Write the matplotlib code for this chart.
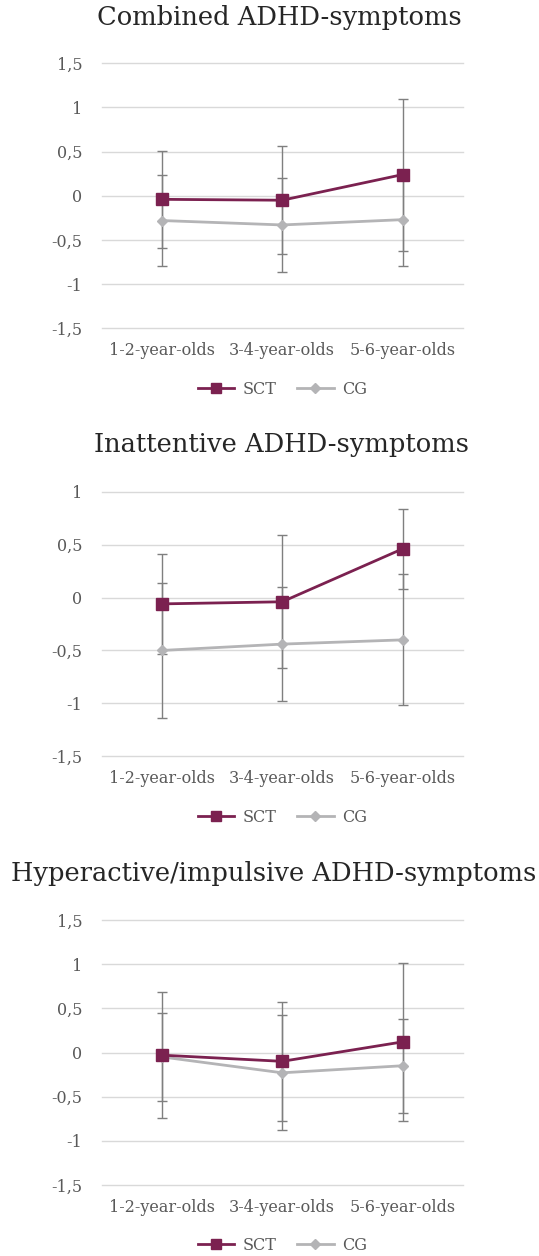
import matplotlib
matplotlib.use("Agg")
import matplotlib.pyplot as plt
from matplotlib.lines import Line2D

categories = ["1-2-year-olds", "3-4-year-olds", "5-6-year-olds"]
series_names = ["SCT", "CG"]

titles = ["Combined ADHD-symptoms", "Inattentive ADHD-symptoms",
          "Hyperactive/impulsive ADHD-symptoms"]

# Panel 1: Combined
sct_combined = [-0.04, -0.05, 0.24]
sct_combined_err = [0.55, 0.61, 0.86]
cg_combined = [-0.28, -0.33, -0.27]
cg_combined_err = [0.51, 0.53, 0.52]

# Panel 2: Inattentive
sct_inatt = [-0.06, -0.04, 0.46]
sct_inatt_err = [0.47, 0.63, 0.38]
cg_inatt = [-0.50, -0.44, -0.40]
cg_inatt_err = [0.64, 0.54, 0.62]

# Panel 3: Hyperactive/impulsive
sct_hyper = [-0.03, -0.10, 0.12]
sct_hyper_err = [0.71, 0.67, 0.89]
cg_hyper = [-0.05, -0.23, -0.15]
cg_hyper_err = [0.50, 0.65, 0.53]

yticks_1 = [-1.5, -1, -0.5, 0, 0.5, 1, 1.5]
yticks_2 = [-1.5, -1, -0.5, 0, 0.5, 1]
yticks_3 = [-1.5, -1, -0.5, 0, 0.5, 1, 1.5]

def fmt(v):
    s = ("%g" % v).replace(".", ",")
    return s

W, H = 539, 1256
fig = plt.figure(figsize=(W / 100, H / 100), dpi=100)
FONT = "DejaVu Serif"
SCT_C = "#7B2150"
CG_C = "#B4B4B6"
ERR_C = "#7F7F7F"
GRID_C = "#D9D9D9"
TXT_C = "#595959"

panels = [
    (titles[0], sct_combined, sct_combined_err, cg_combined, cg_combined_err, yticks_1, 63.3, 328.3, 18, 389, 279),
    (titles[1], sct_inatt, sct_inatt_err, cg_inatt, cg_inatt_err, yticks_2, 491.7, 756.3, 445, 817, 282),
    (titles[2], sct_hyper, sct_hyper_err, cg_hyper, cg_hyper_err, yticks_3, 920.0, 1185.0, 873, 1245, 273.5),
]

left, right = 101.7, 462.7
for (title, sct, sct_e, cg, cg_e, yt, top, bot, ty, ly, tx) in panels:
    ax = fig.add_axes([left / W, 1 - bot / H, (right - left) / W, (bot - top) / H])
    x = list(range(len(categories)))
    for t in yt:
        ax.axhline(t, color=GRID_C, lw=1.0, zorder=0, clip_on=False)
    ax.errorbar(x, cg, yerr=cg_e, fmt="none", ecolor=ERR_C, elinewidth=1.0,
                capsize=3.5, capthick=1.0, zorder=2, clip_on=False)
    ax.errorbar(x, sct, yerr=sct_e, fmt="none", ecolor=ERR_C, elinewidth=1.0,
                capsize=3.5, capthick=1.0, zorder=2, clip_on=False)
    ax.plot(x, cg, color=CG_C, lw=2.0, marker="D", markersize=5.5,
            markerfacecolor=CG_C, markeredgecolor=CG_C, zorder=3, clip_on=False)
    ax.plot(x, sct, color=SCT_C, lw=2.0, marker="s", markersize=8,
            markerfacecolor=SCT_C, markeredgecolor=SCT_C, zorder=4, clip_on=False)
    ax.set_xlim(-0.5, len(categories) - 0.5)
    ax.set_ylim(min(yt), max(yt))
    ax.set_yticks(yt)
    ax.set_yticklabels([fmt(v) for v in yt], fontfamily=FONT, fontsize=11.5, color=TXT_C)
    ax.set_xticks(x)
    ax.set_xticklabels(categories, fontfamily=FONT, fontsize=11.5, color=TXT_C)
    ax.tick_params(axis="y", length=0, pad=14)
    ax.tick_params(axis="x", length=0, pad=10)
    for s in ax.spines.values():
        s.set_visible(False)
    ax.patch.set_alpha(0)
    fig.text(tx / W, 1 - ty / H, title,
             ha="center", va="center", fontfamily=FONT, fontsize=18.5, color="#262626")
    handles = [
        Line2D([0], [0], color=SCT_C, lw=2.0, marker="s", markersize=7),
        Line2D([0], [0], color=CG_C, lw=2.0, marker="D", markersize=5),
    ]
    fig.legend(handles, series_names, loc="center", bbox_to_anchor=(0.5 * (101.7 + 462.7) / W, 1 - ly / H),
               ncol=2, frameon=False, handlelength=2.3, columnspacing=1.3, handletextpad=0.5,
               prop={"family": FONT, "size": 11.5}, labelcolor=TXT_C)

fig.savefig("out.png", dpi=100)
